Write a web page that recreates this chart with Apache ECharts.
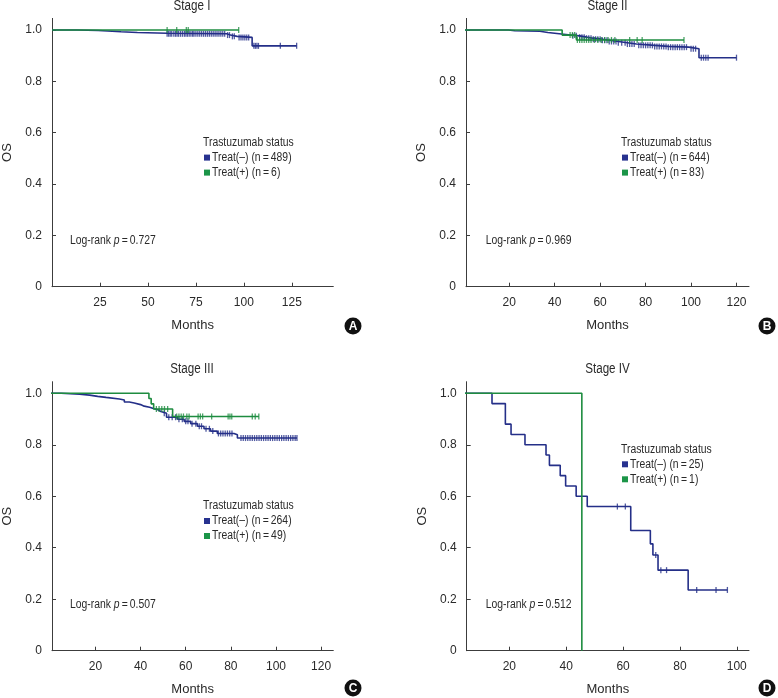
<!DOCTYPE html>
<html><head><meta charset="utf-8">
<script src="https://cdn.jsdelivr.net/npm/echarts@6/dist/echarts.min.js"></script>
<style>html,body{margin:0;padding:0;background:#fff}#c{width:778px;height:698px}</style>
</head><body><div id="c"></div>
<script>
// ---------- data ----------
const panelTitles = ['Stage I', 'Stage II', 'Stage III', 'Stage IV'];
const panelLetters = ['A', 'B', 'C', 'D'];
const legendHeader = 'Trastuzumab status';
const negLabels = ['Treat(\u2013) (n\u2009=\u2009489)', 'Treat(\u2013) (n\u2009=\u2009644)', 'Treat(\u2013) (n\u2009=\u2009264)', 'Treat(\u2013) (n\u2009=\u200925)'];
const posLabels = ['Treat(+) (n\u2009=\u20096)', 'Treat(+) (n\u2009=\u200983)', 'Treat(+) (n\u2009=\u200949)', 'Treat(+) (n\u2009=\u20091)'];
const pValues = ['0.727', '0.969', '0.507', '0.512'];
const yTicks = [0, 0.2, 0.4, 0.6, 0.8, 1.0];
const xTicksA = [25, 50, 75, 100, 125];
const xTicksB = [20, 40, 60, 80, 100, 120];
const xTicksC = [20, 40, 60, 80, 100, 120];
const xTicksD = [20, 40, 60, 80, 100];

// Kaplan-Meier steps [month, survival]
const negStepsA = [[0,1],[13,0.998],[24,0.996],[29,0.993],[36,0.99],[44.5,0.987],[60,0.985],[91,0.98],[93,0.975],[96.5,0.971],[104.3,0.938],[127.5,0.938]];
const negCensorA = [60,60.8,61.6,62.4,63.5,64.4,65.2,66,67,68,69,69.8,70.6,71.5,72.4,73.3,74,75,76,77,78,79,80,81,82,83,84,85,86,87,88,89,90,91.5,92.5,94,95,97.5,98.5,99.5,100.5,101.5,102.5,105.2,106,106.8,107.6,119,127.5];
const posStepsA = [[0,1],[97.3,1]];
const posCensorA = [60,65,70,71,97.3];

const negStepsB = [[0,1],[19.6,0.997],[22.5,0.995],[33.5,0.99],[37,0.987],[40,0.984],[43,0.98],[47,0.977],[51,0.972],[54,0.968],[57,0.964],[61,0.96],[64,0.955],[68,0.95],[72,0.945],[76,0.94],[84,0.936],[90,0.933],[99,0.927],[103.5,0.892],[120,0.892]];
const negCensorB = [48,49.5,51,52,53,54,55,56,57,58,59,60,61,62,63,64,65,66,67,68,69.5,71,72,73,74,75,77,78,79,80,81,82,83,84,85,86,87,88,89,90,91,92,93,94,95,96,97,98,100,101,102,104.5,105.5,106.5,107.5,120];
const posStepsB = [[0,1],[43.3,0.98],[49.6,0.961],[96.9,0.961]];
const posCensorB = [46.8,47.8,48.8,50,51,52,53,54,55,56,57.5,59,60.5,62,63.5,65,66.5,73,76.3,78.5,96.9];

const negStepsC = [[0,1],[4.8,0.996],[13,0.993],[17.4,0.988],[21,0.984],[24.7,0.978],[30.6,0.974],[32.8,0.966],[35,0.962],[37.2,0.956],[40,0.95],[41.6,0.946],[44,0.94],[46,0.935],[48,0.929],[49,0.922],[51.5,0.907],[56.4,0.899],[59.3,0.891],[62.2,0.882],[65.2,0.872],[68.1,0.862],[71,0.853],[74,0.844],[81.4,0.839],[82.9,0.826],[109.3,0.826]];
const negCensorC = [50.5,52.5,54,55.5,57,58.5,60,61,62.8,64.5,66,67,69,70.5,72,74.5,75.5,76.5,77.5,78.5,79.5,80.5,84.5,85.5,86.5,87.5,88.5,89.5,90.5,91.5,92.5,93.5,94.5,95.5,96.5,97.5,98.5,99.5,100.5,101.5,102.5,103.5,104.5,105.5,106.5,107.5,108.5,109.3];
const posStepsC = [[0,1],[43.7,0.98],[44.7,0.959],[45.8,0.939],[54.2,0.91],[92.4,0.91]];
const posCensorC = [47,48.2,49.4,50.6,52,56,57,58,59,60.5,61.5,65.5,66.5,67.5,71.5,78.8,79.6,80.4,89.5,90.8,92.4];

const negStepsD = [[0,1],[13.9,0.96],[18.6,0.88],[20.6,0.84],[25.5,0.8],[32.9,0.76],[34.1,0.72],[37.9,0.68],[39.8,0.64],[43.5,0.6],[47.4,0.56],[62.7,0.467],[69.6,0.415],[70.5,0.372],[72.3,0.313],[82.9,0.236],[96.7,0.236]];
const negCensorD = [58,60.8,71.5,73.3,75.3,85.9,92.7,96.7];
const posStepsD = [[0,1],[45.5,0]];
const posCensorD = [];

// ---------- layout / style ----------
const FONT = '"Liberation Sans", Arial, Helvetica, sans-serif';
const NARROW = 0.83; // horizontal squeeze to mimic the condensed face of the original
const BLUE = '#242f88';
const GREEN = '#1e8c40';
const AX = '#3c3c3c';
const TXT = '#2a2a2a';

const panels = [
  {grid:{left:50.8, top:18.4, width:282.5, height:268.3}, xmin:0, xmax:146.6, xt:xTicksA, neg:negStepsA, negC:negCensorA, pos:posStepsA, posC:posCensorA,
   title:[192, 6], leg:[203, 142.6], p:[70, 241], badge:[353, 326]},
  {grid:{left:466, top:18.4, width:283, height:268.3}, xmin:1, xmax:125.5, xt:xTicksB, neg:negStepsB, negC:negCensorB, pos:posStepsB, posC:posCensorB,
   title:[607.5, 6], leg:[621, 142.6], p:[485.7, 241], badge:[767, 326]},
  {grid:{left:50.7, top:381.7, width:282.6, height:269}, xmin:0.75, xmax:125.4, xt:xTicksC, neg:negStepsC, negC:negCensorC, pos:posStepsC, posC:posCensorC,
   title:[192, 369.3], leg:[203, 506], p:[70, 604.3], badge:[353, 688]},
  {grid:{left:466.7, top:381.7, width:282.3, height:269}, xmin:5, xmax:104.3, xt:xTicksD, neg:negStepsD, negC:negCensorD, pos:posStepsD, posC:posCensorD,
   title:[607.5, 369.3], leg:[621, 449.3], p:[485.7, 604.3], badge:[767, 688]}
];

function survAt(steps, t) {
  let s = steps[0][1];
  for (const [tt, v] of steps) { if (tt <= t + 1e-9) s = v; else break; }
  return s;
}

function squeezedText(x, y, style) {
  return {type: 'text', x: x, y: y, scaleX: NARROW, scaleY: 1, silent: true, style: style};
}

const grids = [], xAxes = [], yAxes = [], series = [], graphics = [];
panels.forEach((P, i) => {
  grids.push(P.grid);
  xAxes.push({
    gridIndex: i, type: 'value', min: P.xmin, max: P.xmax,
    axisLine: {show: true, onZero: false, lineStyle: {color: AX, width: 1}},
    axisTick: {show: true, inside: true, length: 4, customValues: P.xt, lineStyle: {color: AX}},
    axisLabel: {customValues: P.xt, fontFamily: FONT, fontSize: 12, color: TXT, margin: 10},
    splitLine: {show: false},
    name: 'Months', nameLocation: 'middle', nameGap: 32,
    nameTextStyle: {fontFamily: FONT, fontSize: 13, color: TXT}
  });
  yAxes.push({
    gridIndex: i, type: 'value', min: 0, max: 1.045,
    axisLine: {show: true, onZero: false, lineStyle: {color: AX, width: 1}},
    axisTick: {show: true, inside: true, length: 4, customValues: yTicks, lineStyle: {color: AX}},
    axisLabel: {customValues: yTicks, fontFamily: FONT, fontSize: 12, color: TXT, margin: 10,
      formatter: v => (v === 0 ? '0' : v.toFixed(1))},
    splitLine: {show: false},
    name: 'OS', nameLocation: 'middle', nameGap: 38, nameRotate: 90,
    nameTextStyle: {fontFamily: FONT, fontSize: 13, color: TXT}
  });
  series.push({
    name: negLabels[i], type: 'line', step: 'end', xAxisIndex: i, yAxisIndex: i,
    data: P.neg, showSymbol: false, symbol: 'none', clip: true,
    lineStyle: {color: BLUE, width: 1.6}, itemStyle: {color: BLUE}, z: 3
  });
  series.push({
    name: negLabels[i] + ' censored', type: 'scatter', xAxisIndex: i, yAxisIndex: i,
    data: P.negC.map(t => [t, survAt(P.neg, t)]), symbol: 'rect', symbolSize: [1.3, 6],
    itemStyle: {color: BLUE}, z: 4
  });
  series.push({
    name: posLabels[i], type: 'line', step: 'end', xAxisIndex: i, yAxisIndex: i,
    data: P.pos, showSymbol: false, symbol: 'none', clip: true,
    lineStyle: {color: GREEN, width: 1.6}, itemStyle: {color: GREEN}, z: 5
  });
  series.push({
    name: posLabels[i] + ' censored', type: 'scatter', xAxisIndex: i, yAxisIndex: i,
    data: P.posC.map(t => [t, survAt(P.pos, t)]), symbol: 'rect', symbolSize: [1.3, 6],
    itemStyle: {color: GREEN}, z: 6
  });

  // panel title
  graphics.push(squeezedText(P.title[0], P.title[1],
    {text: panelTitles[i], font: '14px ' + FONT, fill: TXT, align: 'center', verticalAlign: 'middle'}));
  // legend block
  const [lx, ly] = P.leg;
  graphics.push(squeezedText(lx, ly,
    {text: legendHeader, font: '12.5px ' + FONT, fill: TXT, align: 'left', verticalAlign: 'middle'}));
  [[negLabels[i], '#27328f'], [posLabels[i], '#1c9548']].forEach(([lab, col], k) => {
    const yy = ly + 15 * (k + 1);
    graphics.push({type: 'rect', silent: true, shape: {x: lx + 1, y: yy - 3, width: 6, height: 6}, style: {fill: col}});
    graphics.push(squeezedText(lx + 9, yy,
      {text: lab, font: '12.5px ' + FONT, fill: TXT, align: 'left', verticalAlign: 'middle'}));
  });
  // log-rank text
  graphics.push(squeezedText(P.p[0], P.p[1],
    {text: '{a|Log-rank }{b|p}{a|\u2009=\u2009' + pValues[i] + '}', align: 'left', verticalAlign: 'middle',
      rich: {a: {fontFamily: FONT, fontSize: 12.5, fill: TXT, color: TXT},
             b: {fontFamily: FONT, fontSize: 12.5, fontStyle: 'italic', fill: TXT, color: TXT}}}));
  // panel badge
  graphics.push({type: 'circle', silent: true, shape: {cx: P.badge[0], cy: P.badge[1], r: 8.5}, style: {fill: '#111'}});
  graphics.push({type: 'text', x: P.badge[0], y: P.badge[1] + 0.5, silent: true,
    style: {text: panelLetters[i], font: 'bold 12px ' + FONT, fill: '#fff', align: 'center', verticalAlign: 'middle'}});
});

const chart = echarts.init(document.getElementById('c'), null, {renderer: 'canvas'});
chart.setOption({
  animation: false,
  backgroundColor: '#fff',
  grid: grids, xAxis: xAxes, yAxis: yAxes, series: series, graphic: graphics
});
</script>
</body></html>
